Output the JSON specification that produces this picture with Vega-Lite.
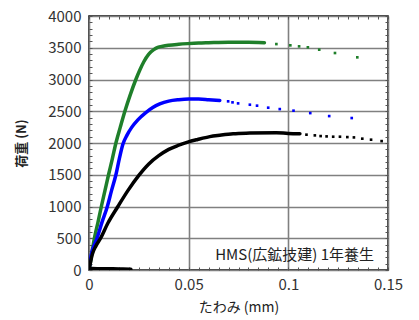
{
  "$schema": "https://vega.github.io/schema/vega-lite/v6.json",
  "width": 299,
  "height": 254,
  "autosize": {"type": "none"},
  "padding": {"left": 89, "top": 16, "right": 31, "bottom": 50},
  "background": "#ffffff",
  "config": {
    "view": {"stroke": "#000000", "strokeWidth": 1.5},
    "font": "Noto Sans CJK JP"
  },
  "datasets": {
    "curves": [
      {"s":"g","p":"d","x":0,"y":0},{"s":"g","p":"d","x":0.0005,"y":80},{"s":"g","p":"d","x":0.0015,"y":280},{"s":"g","p":"d","x":0.0027,"y":500},{"s":"g","p":"d","x":0.0045,"y":750},{"s":"g","p":"d","x":0.0062,"y":1000},{"s":"g","p":"d","x":0.008,"y":1250},{"s":"g","p":"d","x":0.0098,"y":1500},{"s":"g","p":"d","x":0.0117,"y":1750},{"s":"g","p":"d","x":0.0135,"y":2000},{"s":"g","p":"d","x":0.0157,"y":2250},{"s":"g","p":"d","x":0.018,"y":2500},{"s":"g","p":"d","x":0.0206,"y":2750},{"s":"g","p":"d","x":0.0235,"y":3000},{"s":"g","p":"d","x":0.0255,"y":3150},{"s":"g","p":"d","x":0.0275,"y":3280},{"s":"g","p":"d","x":0.03,"y":3400},{"s":"g","p":"d","x":0.0325,"y":3470},{"s":"g","p":"d","x":0.0345,"y":3505},{"s":"g","p":"d","x":0.037,"y":3525},{"s":"g","p":"d","x":0.04,"y":3540},{"s":"g","p":"d","x":0.045,"y":3555},{"s":"g","p":"d","x":0.0495,"y":3565},{"s":"g","p":"d","x":0.055,"y":3575},{"s":"g","p":"d","x":0.06,"y":3580},{"s":"g","p":"d","x":0.07,"y":3588},{"s":"g","p":"d","x":0.08,"y":3585},{"s":"g","p":"d","x":0.088,"y":3580},
      {"s":"g","p":"s","x":0.094,"y":3558},{"s":"g","p":"s","x":0.101,"y":3538},{"s":"g","p":"s","x":0.1054,"y":3522},{"s":"g","p":"s","x":0.1098,"y":3507},{"s":"g","p":"s","x":0.1155,"y":3470},{"s":"g","p":"s","x":0.1234,"y":3417},{"s":"g","p":"s","x":0.1346,"y":3349},
      {"s":"b","p":"d","x":0,"y":0},{"s":"b","p":"d","x":0.0012,"y":252},{"s":"b","p":"d","x":0.0025,"y":380},{"s":"b","p":"d","x":0.004,"y":500},{"s":"b","p":"d","x":0.0065,"y":750},{"s":"b","p":"d","x":0.0092,"y":1000},{"s":"b","p":"d","x":0.0113,"y":1250},{"s":"b","p":"d","x":0.0135,"y":1500},{"s":"b","p":"d","x":0.0152,"y":1750},{"s":"b","p":"d","x":0.017,"y":1980},{"s":"b","p":"d","x":0.019,"y":2120},{"s":"b","p":"d","x":0.0215,"y":2250},{"s":"b","p":"d","x":0.0245,"y":2365},{"s":"b","p":"d","x":0.0285,"y":2480},{"s":"b","p":"d","x":0.032,"y":2560},{"s":"b","p":"d","x":0.0355,"y":2615},{"s":"b","p":"d","x":0.04,"y":2660},{"s":"b","p":"d","x":0.045,"y":2682},{"s":"b","p":"d","x":0.05,"y":2692},{"s":"b","p":"d","x":0.055,"y":2692},{"s":"b","p":"d","x":0.06,"y":2683},{"s":"b","p":"d","x":0.0656,"y":2671},
      {"s":"b","p":"s","x":0.0698,"y":2656},{"s":"b","p":"s","x":0.072,"y":2640},{"s":"b","p":"s","x":0.0748,"y":2624},{"s":"b","p":"s","x":0.0807,"y":2603},{"s":"b","p":"s","x":0.0843,"y":2588},{"s":"b","p":"s","x":0.0899,"y":2556},{"s":"b","p":"s","x":0.0957,"y":2534},{"s":"b","p":"s","x":0.1026,"y":2509},{"s":"b","p":"s","x":0.111,"y":2471},{"s":"b","p":"s","x":0.1205,"y":2424},{"s":"b","p":"s","x":0.1318,"y":2393},
      {"s":"k","p":"d","x":0,"y":0},{"s":"k","p":"d","x":0.0017,"y":252},{"s":"k","p":"d","x":0.0035,"y":380},{"s":"k","p":"d","x":0.0058,"y":500},{"s":"k","p":"d","x":0.0095,"y":740},{"s":"k","p":"d","x":0.0145,"y":1000},{"s":"k","p":"d","x":0.0195,"y":1250},{"s":"k","p":"d","x":0.025,"y":1490},{"s":"k","p":"d","x":0.03,"y":1670},{"s":"k","p":"d","x":0.035,"y":1800},{"s":"k","p":"d","x":0.04,"y":1900},{"s":"k","p":"d","x":0.045,"y":1965},{"s":"k","p":"d","x":0.0495,"y":2013},{"s":"k","p":"d","x":0.0545,"y":2055},{"s":"k","p":"d","x":0.0606,"y":2100},{"s":"k","p":"d","x":0.0656,"y":2122},{"s":"k","p":"d","x":0.0723,"y":2146},{"s":"k","p":"d","x":0.0807,"y":2156},{"s":"k","p":"d","x":0.094,"y":2162},{"s":"k","p":"d","x":0.0999,"y":2150},{"s":"k","p":"d","x":0.1058,"y":2146},
      {"s":"k","p":"s","x":0.1091,"y":2131},{"s":"k","p":"s","x":0.1133,"y":2120},{"s":"k","p":"s","x":0.1162,"y":2109},{"s":"k","p":"s","x":0.1192,"y":2104},{"s":"k","p":"s","x":0.1225,"y":2099},{"s":"k","p":"s","x":0.1259,"y":2099},{"s":"k","p":"s","x":0.1296,"y":2093},{"s":"k","p":"s","x":0.1329,"y":2088},{"s":"k","p":"s","x":0.1371,"y":2068},{"s":"k","p":"s","x":0.1415,"y":2052},{"s":"k","p":"s","x":0.1468,"y":2030},
      {"s":"z","p":"d","x":0.0015,"y":25},{"s":"z","p":"d","x":0.006,"y":18},{"s":"z","p":"d","x":0.012,"y":20},{"s":"z","p":"d","x":0.017,"y":15},{"s":"z","p":"d","x":0.021,"y":12}
    ],
    "note": [{"x": 0.143, "y": 240, "t": "HMS(広鉱技建) 1年養生"}]
  },
  "data": {"name": "curves"},
  "layer": [
    {
      "transform": [{"filter": "datum.p === 'd'"}],
      "mark": {"type": "line", "strokeWidth": 3.5, "strokeCap": "round", "strokeJoin": "round", "clip": true, "interpolate": "monotone"},
      "encoding": {
        "x": {
          "field": "x", "type": "quantitative",
          "scale": {"domain": [0, 0.15], "nice": false, "zero": false},
          "axis": {
            "orient": "bottom",
            "values": [0,0.005,0.01,0.015,0.02,0.025,0.03,0.035,0.04,0.045,0.05,0.055,0.06,0.065,0.07,0.075,0.08,0.085,0.09,0.095,0.1,0.105,0.11,0.115,0.12,0.125,0.13,0.135,0.14,0.145,0.15],
            "labelExpr": "abs(datum.value*20 - round(datum.value*20)) < 1e-6 ? format(datum.value, '~g') : ''",
            "title": "たわみ (mm)",
            "titleFont": "Noto Sans CJK JP", "titleFontSize": 14, "titleFontWeight": "normal", "titleColor": "#222", "titlePadding": 8,
            "labelFont": "Noto Sans CJK JP", "labelFontSize": 15, "labelColor": "#333", "labelPadding": 10, "labelFlush": false, "labelOverlap": false,
            "domain": false,
            "ticks": true, "tickSize": -3, "tickColor": "#555", "tickWidth": 1,
            "grid": true, "gridColor": "#808080", "gridWidth": 1.6,
            "gridOpacity": {"condition": {"test": "abs(datum.value*20 - round(datum.value*20)) < 1e-6", "value": 1}, "value": 0}
          }
        },
        "y": {
          "field": "y", "type": "quantitative",
          "scale": {"domain": [0, 4000], "nice": false},
          "axis": {
            "orient": "left",
            "values": [0,100,200,300,400,500,600,700,800,900,1000,1100,1200,1300,1400,1500,1600,1700,1800,1900,2000,2100,2200,2300,2400,2500,2600,2700,2800,2900,3000,3100,3200,3300,3400,3500,3600,3700,3800,3900,4000],
            "labelExpr": "datum.value % 500 === 0 ? format(datum.value, 'd') : ''",
            "title": "荷重 (N)",
            "titleFont": "Noto Sans CJK JP", "titleFontSize": 13, "titleFontWeight": "bold", "titleColor": "#222", "titlePadding": 19,
            "labelFont": "Noto Sans CJK JP", "labelFontSize": 15, "labelColor": "#333", "labelPadding": 11, "labelFlush": false, "labelOverlap": false,
            "domain": false,
            "ticks": true, "tickSize": -3, "tickColor": "#555", "tickWidth": 1,
            "grid": true, "gridColor": "#808080", "gridWidth": 1.6,
            "gridOpacity": {"condition": {"test": "datum.value % 500 === 0", "value": 1}, "value": 0}
          }
        },
        "color": {"field": "s", "type": "nominal", "scale": {"domain": ["g","b","k","z"], "range": ["#1f7f2a","#0000ff","#000000","#000000"]}, "legend": null},
        "detail": {"field": "s"}
      }
    },
    {
      "transform": [{"filter": "datum.p === 's'"}],
      "mark": {"type": "point", "shape": "square", "filled": true, "size": 7, "opacity": 1},
      "encoding": {
        "x": {
          "field": "x", "type": "quantitative",
          "axis": {
            "orient": "top",
            "values": [0,0.005,0.01,0.015,0.02,0.025,0.03,0.035,0.04,0.045,0.05,0.055,0.06,0.065,0.07,0.075,0.08,0.085,0.09,0.095,0.1,0.105,0.11,0.115,0.12,0.125,0.13,0.135,0.14,0.145,0.15],
            "labels": false, "title": null, "domain": false, "grid": false,
            "ticks": true, "tickSize": -3, "tickColor": "#555", "tickWidth": 1
          }
        },
        "y": {
          "field": "y", "type": "quantitative",
          "axis": {
            "orient": "right",
            "values": [0,100,200,300,400,500,600,700,800,900,1000,1100,1200,1300,1400,1500,1600,1700,1800,1900,2000,2100,2200,2300,2400,2500,2600,2700,2800,2900,3000,3100,3200,3300,3400,3500,3600,3700,3800,3900,4000],
            "labels": false, "title": null, "domain": false, "grid": false,
            "ticks": true, "tickSize": -3, "tickColor": "#555", "tickWidth": 1
          }
        },
        "color": {"field": "s", "type": "nominal", "legend": null}
      }
    },
    {
      "data": {"name": "note"},
      "mark": {"type": "text", "align": "right", "baseline": "middle", "font": "Noto Sans CJK JP", "fontSize": 15, "color": "#222"},
      "encoding": {
        "x": {"field": "x", "type": "quantitative", "axis": null},
        "y": {"field": "y", "type": "quantitative", "axis": null},
        "text": {"field": "t"}
      }
    }
  ],
  "resolve": {"axis": {"x": "independent", "y": "independent"}}
}
